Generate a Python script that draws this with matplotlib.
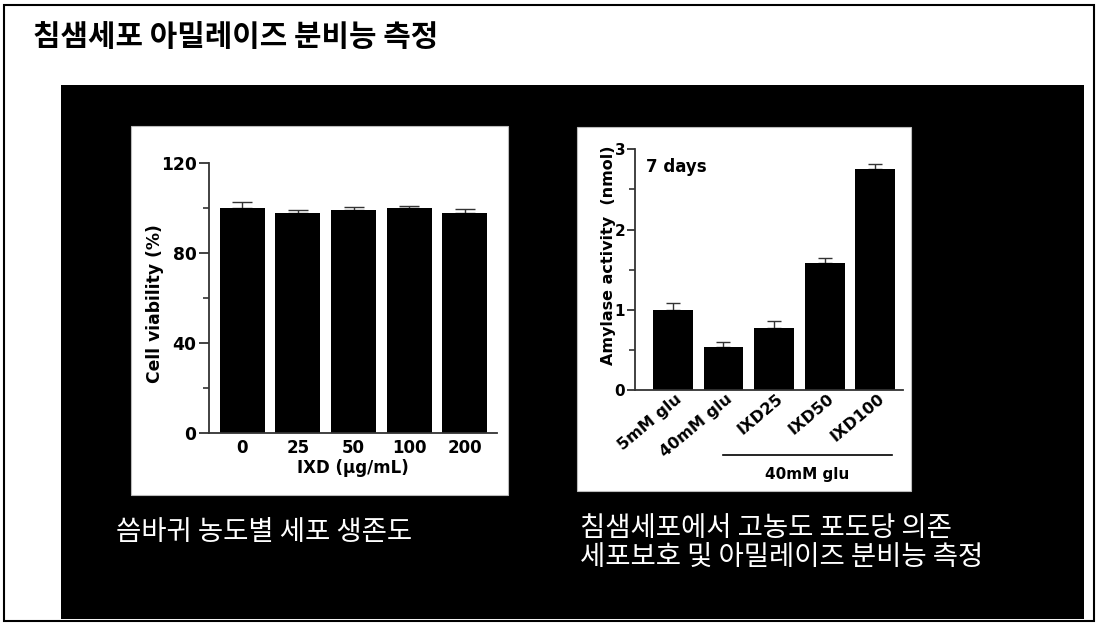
import matplotlib
matplotlib.use("Agg")
import matplotlib.pyplot as plt
from matplotlib.patches import Rectangle
from matplotlib.transforms import blended_transform_factory, ScaledTranslation

# ---------------- data ----------------
title_text = "침샘세포 아밀레이즈 분비능 측정"
caption_left = "씀바귀 농도별 세포 생존도"
caption_right = "침샘세포에서 고농도 포도당 의존\n세포보호 및 아밀레이즈 분비능 측정"

viab_labels = ["0", "25", "50", "100", "200"]
viab_mean = [100.1, 97.8, 99.0, 100.0, 97.6]
viab_err = [2.7, 1.3, 1.3, 1.0, 1.9]
viab_yticks = [0, 40, 80, 120]
viab_xlabel = "IXD (µg/mL)"
viab_ylabel = "Cell viability (%)"

amy_labels = ["5mM glu", "40mM glu", "IXD25", "IXD50", "IXD100"]
amy_mean = [1.0, 0.54, 0.77, 1.58, 2.75]
amy_err = [0.08, 0.06, 0.09, 0.07, 0.07]
amy_yticks = [0, 1, 2, 3]
amy_ylabel = "Amylase activity  (nmol)"
amy_note = "7 days"
amy_group = "40mM glu"

# ---------------- figure ----------------
W, H = 1100, 626
fig = plt.figure(figsize=(W / 100, H / 100), dpi=100, facecolor="white")

def frect(x0, y0, x1, y1):
    return [x0 / W, 1 - y1 / H, (x1 - x0) / W, (y1 - y0) / H]

def add_box(x0, y0, x1, y1, zorder, **kw):
    l, b, w, h = frect(x0, y0, x1, y1)
    r = Rectangle((l, b), w, h, transform=fig.transFigure, zorder=zorder, **kw)
    fig.add_artist(r)
    return r

# outer border
add_box(4, 5, 1094, 621, -3, facecolor="none", edgecolor="black", linewidth=1.5)
# black slide area
add_box(61, 85, 1084, 619, -2, facecolor="black", edgecolor="none")
# white panels
add_box(131, 126, 508, 495, -1, facecolor="white", edgecolor="#bbbbbb", linewidth=0.8)
add_box(577, 127, 911, 491, -1, facecolor="white", edgecolor="#bbbbbb", linewidth=0.8)

fig.text(33 / W, 1 - 37 / H, title_text, fontsize=21.5, fontweight="bold",
         family=["Noto Sans CJK KR", "DejaVu Sans"], ha="left", va="center", color="black")

fig.text(116 / W, 1 - 532 / H, caption_left, fontsize=19.8, color="white",
         family=["Noto Sans CJK KR", "DejaVu Sans"], ha="left", va="center")
fig.text(580 / W, 1 - 543 / H, caption_right, fontsize=19.8, color="white",
         family=["Noto Sans CJK KR", "DejaVu Sans"], ha="left", va="center",
         linespacing=1.12)

bold = dict(family="DejaVu Sans", fontweight="bold", color="black")
axcol = "#333333"

def style_axes(ax):
    for s in ("top", "right"):
        ax.spines[s].set_visible(False)
    for s in ("left", "bottom"):
        ax.spines[s].set_color(axcol)
        ax.spines[s].set_linewidth(1.3)
    ax.set_facecolor("none")
    ax.tick_params(axis="x", length=0)

# ---------------- left chart ----------------
ax1 = fig.add_axes(frect(209, 163, 497, 433))
style_axes(ax1)
x1 = list(range(len(viab_labels)))
ax1.bar(x1, viab_mean, width=0.81, color="black", zorder=2)
ax1.errorbar(x1, viab_mean, yerr=[[0] * len(viab_err), viab_err], fmt="none",
             ecolor="#333333", elinewidth=1.0, capsize=7.5, capthick=1.0, zorder=1)
ax1.set_xlim(-0.6, 4.58)
ax1.set_ylim(0, 120)
ax1.set_yticks(viab_yticks)
ax1.set_yticks([20, 60, 100], minor=True)
ax1.tick_params(axis="y", which="major", length=7, width=1.3, color=axcol, pad=2)
ax1.tick_params(axis="y", which="minor", length=4, width=1.2, color=axcol)
ax1.set_yticklabels([str(v) for v in viab_yticks], fontsize=12.3, **bold)
ax1.set_xticks(x1)
ax1.set_xticklabels(viab_labels, fontsize=12, **bold)
ax1.tick_params(axis="x", pad=4)
ax1.set_xlabel(viab_xlabel, fontsize=12, **bold)
ax1.xaxis.set_label_coords(0.5, (433 - 468) / 270)
ax1.xaxis.label.set_va("center")
ax1.set_ylabel(viab_ylabel, fontsize=12.3, **bold)
ax1.yaxis.set_label_coords((155 - 209) / 288, (433 - 304) / 270)
ax1.yaxis.label.set_va("center")

# ---------------- right chart ----------------
ax2 = fig.add_axes(frect(635, 149.3, 903, 390))
style_axes(ax2)
x2 = list(range(len(amy_labels)))
ax2.bar(x2, amy_mean, width=0.79, color="black", zorder=2)
ax2.errorbar(x2, amy_mean, yerr=[[0] * len(amy_err), amy_err], fmt="none",
             ecolor="#333333", elinewidth=1.0, capsize=5, capthick=1.0, zorder=1)
ax2.set_xlim(-0.75, 4.55)
ax2.set_ylim(0, 3)
ax2.set_yticks(amy_yticks)
ax2.set_yticks([0.5, 1.5, 2.5], minor=True)
ax2.tick_params(axis="y", which="major", length=6, width=1.3, color=axcol, pad=1)
ax2.tick_params(axis="y", which="minor", length=4, width=1.2, color=axcol)
ax2.set_yticklabels([str(v) for v in amy_yticks], fontsize=11, **bold)
ax2.set_xticks(x2)
ax2.set_xticklabels([])
off = ScaledTranslation(7 / 100, -7 / 100, fig.dpi_scale_trans)
btr = blended_transform_factory(ax2.transData, ax2.transAxes)
for xi, lab in zip(x2, amy_labels):
    ax2.text(xi, 0, lab, transform=btr + off, rotation=40, rotation_mode="anchor",
             ha="right", va="center", fontsize=11.5, **bold)
ax2.plot([0.99, 4.34], [(390 - 455) / 240.7] * 2, transform=btr, color="black",
         linewidth=1.2, clip_on=False)
ax2.text(2.65, (390 - 475) / 240.7, amy_group, transform=btr, ha="center", va="center",
         fontsize=11, **bold)
ax2.text(0.04, (390 - 167) / 240.7, amy_note, transform=ax2.transAxes, ha="left",
         va="center", fontsize=12, **bold)
ax2.set_ylabel(amy_ylabel, fontsize=11.5, **bold)
ax2.yaxis.set_label_coords((608 - 635) / 268, (390 - 255) / 240.7)
ax2.yaxis.label.set_va("center")

fig.savefig("out.png", dpi=100, facecolor="white")
